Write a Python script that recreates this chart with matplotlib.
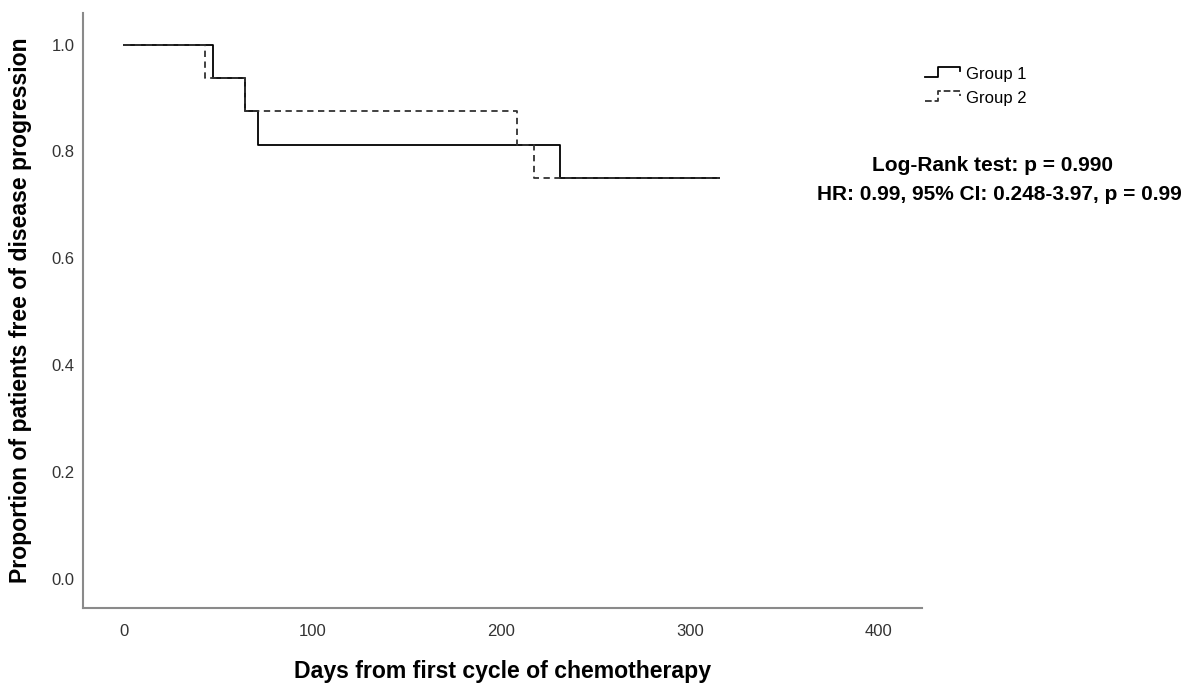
import numpy as np
import matplotlib
matplotlib.use("Agg")
import matplotlib.pyplot as plt
from matplotlib.lines import Line2D
from matplotlib.legend_handler import HandlerBase

# Kaplan-Meier step data (days, proportion progression-free)
g1_days = [0, 47, 64, 71, 231, 315]
g1_surv = [1.0, 0.9375, 0.875, 0.8125, 0.75, 0.75]
g2_days = [0, 43, 64, 208, 217, 315]
g2_surv = [1.0, 0.9375, 0.875, 0.8125, 0.75, 0.75]
group_names = ["Group 1", "Group 2"]

x_ticks = [0, 100, 200, 300, 400]
y_ticks = [0.0, 0.2, 0.4, 0.6, 0.8, 1.0]

stat_lines = ["Log-Rank test: p = 0.990",
              "HR: 0.99, 95% CI: 0.248-3.97, p = 0.99"]

plt.rcParams["font.family"] = ["Liberation Sans", "DejaVu Sans"]

narrow = ["Liberation Sans Narrow", "Liberation Sans"]


class StepHandler(HandlerBase):
    # little step glyph for the legend, like SPSS draws it
    def create_artists(self, legend, orig_handle, xdescent, ydescent,
                       width, height, fontsize, trans):
        xs = np.array([0.0, 0.37, 0.37, 1.0, 1.0]) * width - xdescent
        ys = np.array([0.2, 0.2, 0.95, 0.95, 0.6]) * height - ydescent
        ln = Line2D(xs, ys, color=orig_handle.get_color(),
                    linestyle=orig_handle.get_linestyle(),
                    linewidth=orig_handle.get_linewidth())
        ln.set_transform(trans)
        return [ln]


fig = plt.figure(figsize=(11.9, 6.84), dpi=100)
ax = fig.add_axes([0.0697, 0.1115, 0.7051, 0.8695])

l1, = ax.step(g1_days, g1_surv, where="post", color="black", lw=1.3,
              label=group_names[0])
l2, = ax.step(g2_days, g2_surv, where="post", color="#333333", lw=1.3,
              ls=(0, (3.5, 2.5)), label=group_names[1])

ax.set_xlim(-21.7, 422.8)
ax.set_ylim(-0.054, 1.059)
ax.set_xticks(x_ticks)
ax.set_yticks(y_ticks)
ax.set_xticklabels([str(t) for t in x_ticks], family=narrow, fontsize=12,
                   color="#333333")
ax.set_yticklabels(["%.1f" % t for t in y_ticks], family=narrow, fontsize=12,
                   color="#333333")
ax.tick_params(length=0)
ax.tick_params(axis="x", pad=12)
ax.tick_params(axis="y", pad=6)

for s in ["top", "right"]:
    ax.spines[s].set_visible(False)
for s in ["left", "bottom"]:
    ax.spines[s].set_color("#8a8a8a")
    ax.spines[s].set_linewidth(1.5)

ax.set_xlabel("Days from first cycle of chemotherapy", fontsize=16.6,
              fontweight="bold", labelpad=15)
ax.set_ylabel("Proportion of patients free of disease progression",
              fontsize=16.6, fontweight="bold", labelpad=14)

fig.legend([l1, l2], group_names, loc="upper left",
           bbox_to_anchor=(0.777, 0.903), frameon=False, fontsize=12,
           borderaxespad=0, borderpad=0,
           handlelength=2.1, handleheight=0.8, handletextpad=0.4,
           labelspacing=0.55, handler_map={Line2D: StepHandler()})

fig.text(0.834, 0.758, stat_lines[0], ha="center", va="center",
         fontsize=15, fontweight="bold")
fig.text(0.840, 0.716, stat_lines[1], ha="center", va="center",
         fontsize=15, fontweight="bold")

fig.savefig("out.png", dpi=100)
